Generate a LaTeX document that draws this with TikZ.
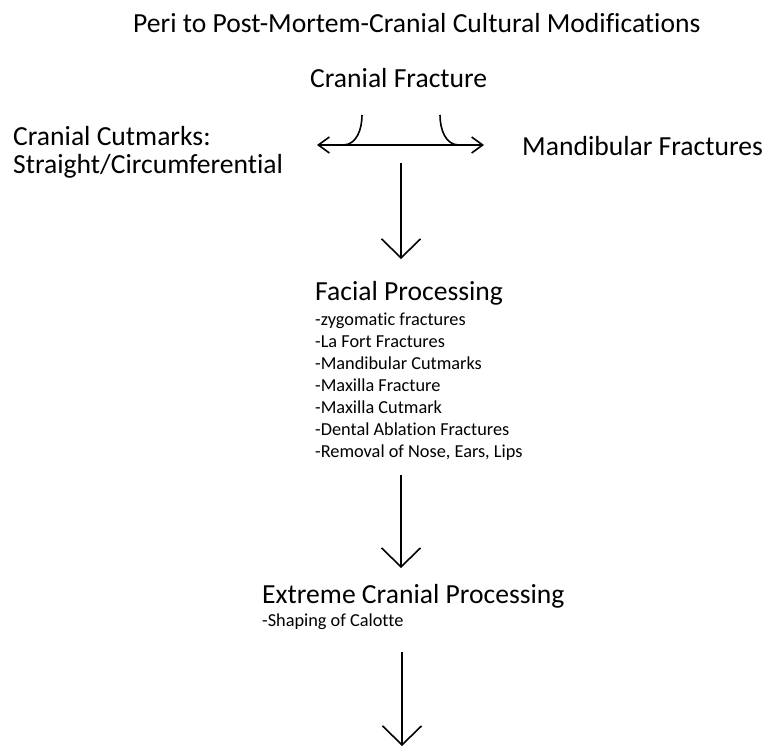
\documentclass[tikz,border=0pt]{standalone}
\usepackage{fontspec}
\setmainfont{Carlito}[Ligatures=CommonOff]
\usetikzlibrary{arrows.meta}
\tikzset{
  big/.style={font=\fontsize{27.6}{28}\selectfont, inner sep=0pt, anchor=base west},
  items/.style={font=\fontsize{18.3}{22}\selectfont, inner sep=0pt, align=left, anchor=base west},
  flow/.style={line width=1.6pt, -{Straight Barb[length=19pt,width=39pt,line width=1.6pt]}},
  side/.style={line width=1.6pt, {Straight Barb[length=11pt,width=16pt,line width=1.6pt]}-{Straight Barb[length=11pt,width=16pt,line width=1.6pt]}}
}
\begin{document}
\begin{tikzpicture}[x=1pt,y=-1pt]
  \useasboundingbox (0,0) rectangle (767,747);
  \node[big] (title) at (133,32) {Peri to Post-Mortem-Cranial Cultural Modifications};
  \node[big] (crfrac) at (310,87) {Cranial Fracture};
  % base of a two-line node is its last line
  \node[big,align=left] (cutm) at (13,173) {Cranial Cutmarks:\\Straight/Circumferential};
  \node[big] (mandf) at (522,155) {Mandibular Fractures};
  % split under the fracture
  \coordinate (la) at (317,145);
  \coordinate (ra) at (484,145);
  \coordinate (lc) at (362,115);
  \coordinate (rc) at (440,115);
  \draw[side] (la) -- (ra);
  \draw[line width=1.6pt] (lc) to[out=-90,in=0] (343,145);
  \draw[line width=1.6pt] (rc) to[out=-90,in=180] (459,145);
  \node[big] (facial) at (315,300) {Facial Processing};
  \node[items] (flist) at (315,457) {-zygomatic fractures\\-La Fort Fractures\\-Mandibular Cutmarks\\-Maxilla Fracture\\-Maxilla Cutmark\\-Dental Ablation Fractures\\-Removal of Nose, Ears, Lips};
  \node[big] (extreme) at (262,603) {Extreme Cranial Processing};
  \node[items] (shape) at (262,626) {-Shaping of Calotte};
  \coordinate (d1) at (401,163);
  \coordinate (t1) at (401,259);
  \coordinate (d2) at (401,475);
  \coordinate (t2) at (401,568);
  \coordinate (d3) at (402,652);
  \coordinate (t3) at (402,746);
  \draw[flow] (d1) -- (t1);
  \draw[flow] (d2) -- (t2);
  \draw[flow] (d3) -- (t3);
\end{tikzpicture}
\end{document}
